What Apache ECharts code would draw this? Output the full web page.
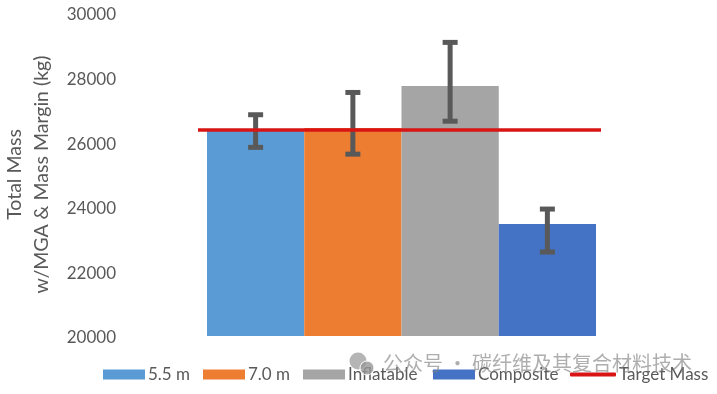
<!DOCTYPE html>
<html><head><meta charset="utf-8"><style>html,body{margin:0;padding:0;background:#fff}#c{width:717px;height:394px}</style>
<script src="https://cdn.jsdelivr.net/npm/echarts@6/dist/echarts.min.js"></script></head>
<body><div id="c"></div><script>
const categories = ['5.5 m', '7.0 m', 'Inflatable', 'Composite'];
const barValues = [26380, 26440, 27740, 23470];
const errHigh = [26850, 27540, 29090, 23930];
const errLow = [25840, 25630, 26650, 22600];
const targetMass = 26380;
const targetName = 'Target Mass';
const targetSpan = [0, 1];
const yTicks = [20000, 30000, 2000];
const colors = ['#5b9bd5', '#ed7d31', '#a5a5a5', '#4472c4'];
const yTitle = 'Total Mass\nw/MGA & Mass Margin (kg)';
const watermark = '公众号 · 碳纤维及其复合材料技术';

const legendLeft = [103, 203, 303, 433];
const chart = echarts.init(document.getElementById('c'), null, {renderer: 'canvas'});
const textColor = '#595959';
const font = 'Lato';
const barSeries = categories.map((name, i) => ({
  name, type: 'bar', stack: 'all', barWidth: '100%', xAxisIndex: 0, yAxisIndex: 0,
  itemStyle: {color: colors[i]}, z: 2,
  data: categories.map((_, j) => j === i ? barValues[i] : null)
}));
const errSeries = {
  type: 'custom', xAxisIndex: 0, yAxisIndex: 0, z: 3, silent: true, legendHoverLink: false,
  data: categories.map((c, i) => [i, errLow[i], errHigh[i]]),
  encode: {x: 0, y: [1, 2]},
  renderItem(params, api) {
    const x = api.coord([api.value(0), 0])[0];
    const lo = api.coord([api.value(0), api.value(1)])[1];
    const hi = api.coord([api.value(0), api.value(2)])[1];
    const st = {stroke: '#595959', lineWidth: 5, fill: null};
    const capW = 7.5;
    return {type: 'group', children: [
      {type: 'line', shape: {x1: x, y1: lo, x2: x, y2: hi}, style: st},
      {type: 'line', shape: {x1: x - capW, y1: lo, x2: x + capW, y2: lo}, style: st},
      {type: 'line', shape: {x1: x - capW, y1: hi, x2: x + capW, y2: hi}, style: st}
    ]};
  }
};
const targetSeries = {
  name: targetName, type: 'line', xAxisIndex: 1, yAxisIndex: 1, z: 4, clip: false,
  symbol: 'none', silent: true,
  lineStyle: {color: '#d81414', width: 3.5, cap: 'butt'}, itemStyle: {color: '#d81414'},
  data: targetSpan.map(x => [x, targetMass])
};
const legendText = {color: textColor, fontSize: 17, fontFamily: font, padding: [0, 0, 0, -2]};
chart.setOption({
  animation: false,
  backgroundColor: '#fff',
  grid: [
    {left: 207, right: 121, top: 13, bottom: 58, containLabel: false, outerBoundsMode: 'none'},
    {left: 198, right: 116, top: 13, bottom: 58, containLabel: false, outerBoundsMode: 'none'}
  ],
  xAxis: [
    {type: 'category', data: categories, show: false, gridIndex: 0},
    {type: 'value', min: 0, max: 1, show: false, gridIndex: 1}
  ],
  yAxis: [{
    type: 'value', gridIndex: 0, min: yTicks[0], max: yTicks[1], interval: yTicks[2],
    splitLine: {show: false}, axisLine: {show: false}, axisTick: {show: false},
    axisLabel: {color: textColor, fontSize: 17, fontFamily: font, margin: 91, verticalAlign: 'top', lineHeight: 4, formatter: v => String(v)},
    name: yTitle, nameLocation: 'middle', nameRotate: 90, nameGap: 152,
    nameTextStyle: {color: textColor, fontSize: 19.5, fontFamily: font, lineHeight: 27}
  }, {
    type: 'value', gridIndex: 1, min: yTicks[0], max: yTicks[1], interval: yTicks[2], show: false
  }],
  legend: [
    ...categories.map((name, i) => ({
      left: legendLeft[i], top: 366, padding: 0, itemWidth: 42, itemHeight: 10, itemGap: 0, icon: 'rect',
      data: [name], textStyle: legendText
    })),
    {left: 570, top: 366, padding: 0, itemWidth: 46, itemHeight: 4, icon: 'roundRect',
     data: [targetName], textStyle: legendText, itemStyle: {color: '#d81414'}}
  ],
  graphic: [
    {type: 'circle', shape: {cx: 358, cy: 361, r: 8.5}, style: {fill: 'rgba(150,150,150,0.7)'}, z: 10},
    {type: 'circle', shape: {cx: 367, cy: 368, r: 7}, style: {fill: 'rgba(150,150,150,0.8)', stroke: '#fff', lineWidth: 1}, z: 10},
    {type: 'text', style: {x: 383, y: 363, text: watermark, fill: 'rgba(130,130,130,0.65)', font: '20px "Noto Sans CJK SC"', verticalAlign: 'middle'}, z: 10}
  ],
  series: [...barSeries, errSeries, targetSeries]
});
</script></body></html>
